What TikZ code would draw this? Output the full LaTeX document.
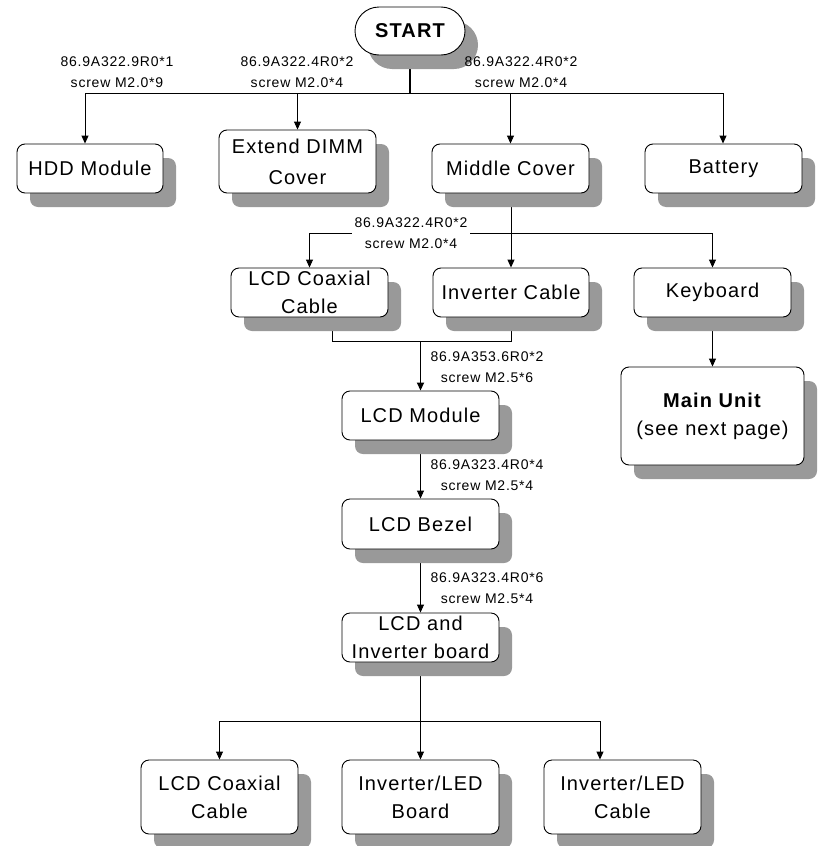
\documentclass[tikz,border=0pt]{standalone}
\usepackage{fontspec}
\setmainfont{Liberation Sans}[LetterSpace=5.5]
\usetikzlibrary{arrows.meta,shadows}
\definecolor{shadowgray}{HTML}{999999}
\pgfdeclarelayer{bg}
\pgfsetlayers{bg,main}
\begin{document}
\begin{tikzpicture}[x=1pt,y=-1pt,
  box/.style={draw=black, line width=0.9pt, fill=white, rounded corners=8pt,
    minimum width=157pt, minimum height=49pt, align=center, inner sep=0pt,
    font=\fontsize{20}{28}\selectfont,
    drop shadow={shadow xshift=13pt, shadow yshift=-14pt, fill=shadowgray, opacity=1}},
  lab/.style={align=center, inner sep=3pt, font=\fontsize{14}{21}\selectfont},
  conn/.style={line width=0.9pt},
  trunk/.style={line width=1.7pt},
  arr/.style={conn, -{Triangle[length=8pt,width=7pt]}},
  tarr/.style={trunk, -{Triangle[length=8pt,width=7pt]}}]
\useasboundingbox (0,0) rectangle (817,846);
% boxes
\node[box, minimum width=110pt, minimum height=48pt, rounded corners=24pt,
  font=\bfseries\fontsize{20}{24}\selectfont] (start) at (410,31) {START};
\node[box, minimum width=146pt] (hdd) at (90,168.5) {HDD Module};
\node[box, minimum height=63pt] (dimm) at (297.5,161.5) {Extend DIMM\\[3pt]Cover};
\node[box] (mid) at (510.5,168.5) {Middle Cover};
\node[box] (bat) at (723.5,168.5) {Battery};
\node[box] (coaxa) at (309.5,292.5) {LCD Coaxial\\Cable};
\node[box, minimum width=156pt] (invc) at (511,292.5) {Inverter Cable};
\node[box] (kbd) at (712.5,292.5) {Keyboard};
\node[box, minimum width=183pt, minimum height=98pt] (main) at (712.5,416) {\textbf{Main Unit}\\(see next page)};
\node[box] (lcdm) at (420.5,415.5) {LCD Module};
\node[box, minimum height=50pt] (bezel) at (420.5,524) {LCD Bezel};
\node[box] (board) at (420.5,637.5) {LCD and\\Inverter board};
\node[box, minimum height=74pt] (coaxb) at (219.5,797) {LCD Coaxial\\Cable};
\node[box, minimum height=74pt] (ledb) at (420.5,797) {Inverter/LED\\Board};
\node[box, minimum height=74pt] (ledc) at (622.5,797) {Inverter/LED\\Cable};
% labels
\node[lab] (l1) at (117,72.5) {86.9A322.9R0*1\\screw M2.0*9};
\node[lab] (l2) at (297,72.5) {86.9A322.4R0*2\\screw M2.0*4};
\node[lab] (l3) at (521,72.5) {86.9A322.4R0*2\\screw M2.0*4};
\node[lab, fill=white] (l4) at (411,233.5) {86.9A322.4R0*2\\screw M2.0*4};
\node[lab] (l5) at (487,367) {86.9A353.6R0*2\\screw M2.5*6};
\node[lab] (l6) at (487,475.5) {86.9A323.4R0*4\\screw M2.5*4};
\node[lab] (l7) at (487,588.5) {86.9A323.4R0*6\\screw M2.5*4};
% connectors
\coordinate (j0) at (410,93);
\coordinate (jl) at (85,93);
\coordinate (jr) at (723,93);
\coordinate (k) at (0,233);
\coordinate (bl) at (332,341);
\coordinate (m) at (0,721);
\coordinate (mr) at (600,721);
\begin{pgfonlayer}{bg}
\draw[trunk] (start.south) -- (j0);
\draw[conn] (jl) -- (jr);
\draw[arr] (jl) -- (jl |- hdd.north);
\draw[arr] (dimm.north |- j0) -- (dimm.north);
\draw[arr] (mid.north |- j0) -- (mid.north);
\draw[arr] (jr) -- (jr |- bat.north);
\draw[conn] (coaxa.north |- k) -- (kbd.north |- k);
\draw[arr] (coaxa.north |- k) -- (coaxa.north);
\draw[arr] (invc.north |- mid.south) -- (invc.north);
\draw[arr] (kbd.north |- k) -- (kbd.north);
\draw[arr] (kbd.south) -- (main.north);
\draw[conn] (bl |- coaxa.south) -- (bl) -- (bl -| invc.south) -- (invc.south);
\draw[tarr] (bl -| lcdm.north) -- (lcdm.north);
\draw[arr] (lcdm.south) -- (bezel.north);
\draw[arr] (bezel.south) -- (board.north);
\draw[trunk] (board.south) -- (board.south |- m);
\draw[conn] (coaxb.north |- m) -- (mr);
\draw[arr] (coaxb.north |- m) -- (coaxb.north);
\draw[arr] (ledb.north |- m) -- (ledb.north);
\draw[arr] (mr) -- (mr |- ledc.north);
\end{pgfonlayer}
\end{tikzpicture}
\end{document}
